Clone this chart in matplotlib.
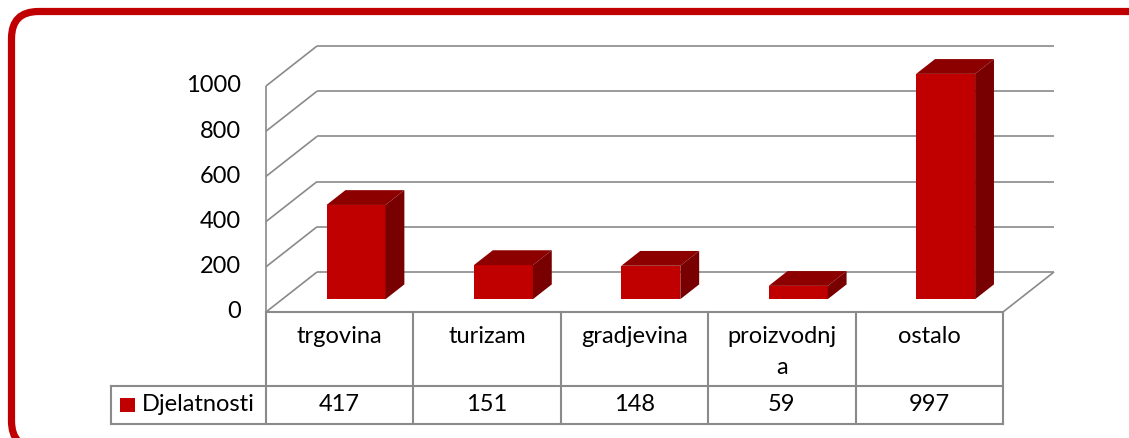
import matplotlib
matplotlib.use("Agg")
import matplotlib.pyplot as plt
from matplotlib.patches import Polygon, FancyBboxPatch, Rectangle

categories = ['trgovina', 'turizam', 'gradjevina', 'proizvodnj\na', 'ostalo']
values = [417, 151, 148, 59, 997]
series_name = 'Djelatnosti'
yticks = [0, 200, 400, 600, 800, 1000]

RED = '#C00000'
TOP = '#8C0000'
SIDE = '#780000'
GRID = '#8A8A8A'
FONT = 'Lato'
FS = 17

plt.rcParams['font.family'] = [FONT, 'DejaVu Sans']

fig = plt.figure(figsize=(11.29, 4.38), dpi=100)

# decoration layer (pixel space, origin bottom-left) for the red rounded frame
deco = fig.add_axes([0, 0, 1, 1])
deco.set_xlim(0, 1129)
deco.set_ylim(0, 438)
deco.axis('off')
deco.add_patch(FancyBboxPatch((11.5, -10), 1148, 438 - 11.5 + 10,
                              boxstyle='round,pad=0,rounding_size=27',
                              fill=False, ec=RED, lw=5.2, clip_on=False))

# chart axes: x in category units, y in value units (front plane)
ax = fig.add_axes([266 / 1129, (438 - 312) / 438, 737 / 1129, 226 / 438])
ax.set_xlim(-0.5, 4.5)
ax.set_ylim(0, 1000)
ax.axis('off')

n = len(categories)
DX = 0.346   # depth offset in category units
DY = 177     # depth offset in value units
x0, x1 = -0.5, n - 0.5

kw = dict(color=GRID, lw=1.2, clip_on=False, solid_capstyle='butt')
# back wall gridlines and left wall diagonals
for t in yticks:
    ax.plot([x0 + DX, x1 + DX], [t + DY, t + DY], zorder=1, **kw)
    ax.plot([x0, x0 + DX], [t, t + DY], zorder=1, **kw)
# front-left axis line
ax.plot([x0, x0], [0, 1000], zorder=1, **kw)
# floor right edge
ax.plot([x1, x1 + DX], [0, DY], zorder=1, **kw)

# 3D bars
f0, f1 = 0.32, 0.69
bw = 0.4
for i, v in enumerate(values):
    l = i - bw / 2 + f0 * DX
    r = l + bw
    b = f0 * DY
    d_x = (f1 - f0) * DX
    d_y = (f1 - f0) * DY
    front = Polygon([(l, b), (r, b), (r, b + v), (l, b + v)], closed=True,
                    fc=RED, ec='none', clip_on=False, zorder=3)
    top = Polygon([(l, b + v), (r, b + v), (r + d_x, b + v + d_y), (l + d_x, b + v + d_y)],
                  closed=True, fc=TOP, ec='none', clip_on=False, zorder=3)
    side = Polygon([(r, b), (r + d_x, b + d_y), (r + d_x, b + v + d_y), (r, b + v)],
                   closed=True, fc=SIDE, ec='none', clip_on=False, zorder=3)
    for p in (front, top, side):
        ax.add_patch(p)

# y tick labels
for t in yticks:
    ax.text(x0 - 0.17, t, str(t), ha='right', va='center', fontsize=FS,
            clip_on=False)

# data table below the chart
row1 = -327   # bottom of category row
row2 = -496   # bottom of values row
leg_left = -1.553
tkw = dict(color=GRID, lw=1.5, clip_on=False, solid_capstyle='projecting')
ax.plot([x0, x1], [0, 0], zorder=2, **tkw)
ax.plot([leg_left, x1], [row1, row1], zorder=2, **tkw)
ax.plot([leg_left, x1], [row2, row2], zorder=2, **tkw)
ax.plot([leg_left, leg_left], [row1, row2], zorder=2, **tkw)
for k in range(n + 1):
    ax.plot([x0 + k, x0 + k], [0, row2], zorder=2, **tkw)

for i, (c, v) in enumerate(zip(categories, values)):
    ax.text(i, -62, c, ha='center', va='top', fontsize=FS, linespacing=1.6,
            clip_on=False)
    ax.text(i, (row1 + row2) / 2, str(v), ha='center', va='center',
            fontsize=FS, clip_on=False)

# legend key inside the table
ax.add_patch(Rectangle((leg_left + 0.065, (row1 + row2) / 2 - 32), 0.097, 64,
                       fc=RED, ec='none', clip_on=False))
ax.text(leg_left + 0.21, (row1 + row2) / 2, series_name, ha='left', va='center',
        fontsize=FS, clip_on=False)

fig.savefig('out.png', dpi=100)
plt.close(fig)
